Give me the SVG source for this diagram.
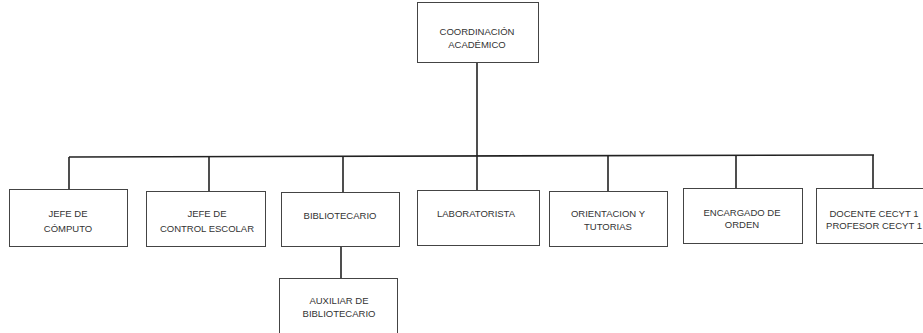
<svg xmlns="http://www.w3.org/2000/svg" width="923" height="333" viewBox="0 0 923 333">
<style>
.box{fill:#fff;stroke:#444;stroke-width:1}
.t{font-family:"Liberation Sans",Arial,sans-serif;font-size:9.5px;fill:#333;text-anchor:middle}
.c{stroke:#222;stroke-width:1.6;fill:none}
</style>
<rect width="923" height="333" fill="#fff"/>
<g id="connectors">
<path class="c" d="M477 62V190"/>
<path class="c" d="M69 157L874 155"/>
<path class="c" d="M69 157V189"/>
<path class="c" d="M209 157V191"/>
<path class="c" d="M343 156V192"/>
<path class="c" d="M608 156V191"/>
<path class="c" d="M736 155V188"/>
<path class="c" d="M873 155V188"/>
<path class="c" d="M341 246V278"/>
</g>
<g id="coordinacion">
<rect class="box" x="417.5" y="2.5" width="121" height="60"/>
<text class="t" x="477" y="34.5">COORDINACIÓN</text>
<text class="t" x="477" y="47.5">ACADÉMICO</text>
</g>
<g id="computo">
<rect class="box" x="9.5" y="189.5" width="118" height="57"/>
<text class="t" x="68" y="216.5">JEFE DE</text>
<text class="t" x="68" y="231.5">CÓMPUTO</text>
</g>
<g id="control">
<rect class="box" x="146.5" y="191.5" width="119" height="55"/>
<text class="t" x="207" y="216.5">JEFE DE</text>
<text class="t" x="207" y="231.5">CONTROL ESCOLAR</text>
</g>
<g id="bibliotecario">
<rect class="box" x="281.5" y="192.5" width="118" height="54"/>
<text class="t" x="340" y="218.5">BIBLIOTECARIO</text>
</g>
<g id="laboratorista">
<rect class="box" x="417.5" y="190.5" width="122" height="55"/>
<text class="t" x="476" y="216.5">LABORATORISTA</text>
</g>
<g id="orientacion">
<rect class="box" x="549.5" y="191.5" width="118" height="55"/>
<text class="t" x="608" y="216.5">ORIENTACION Y</text>
<text class="t" x="608" y="229.5">TUTORIAS</text>
</g>
<g id="encargado">
<rect class="box" x="683.5" y="188.5" width="119" height="55"/>
<text class="t" x="742" y="215.5">ENCARGADO DE</text>
<text class="t" x="742" y="227.5">ORDEN</text>
</g>
<g id="docente">
<rect class="box" x="816.5" y="188.5" width="118" height="55"/>
<text class="t" x="874" y="216.5">DOCENTE CECYT 1</text>
<text class="t" x="874" y="228.5">PROFESOR CECYT 1</text>
</g>
<g id="auxiliar">
<rect class="box" x="279.5" y="278.5" width="118" height="60"/>
<text class="t" x="339" y="303.5">AUXILIAR  DE</text>
<text class="t" x="339" y="316.5">BIBLIOTECARIO</text>
</g>
</svg>
